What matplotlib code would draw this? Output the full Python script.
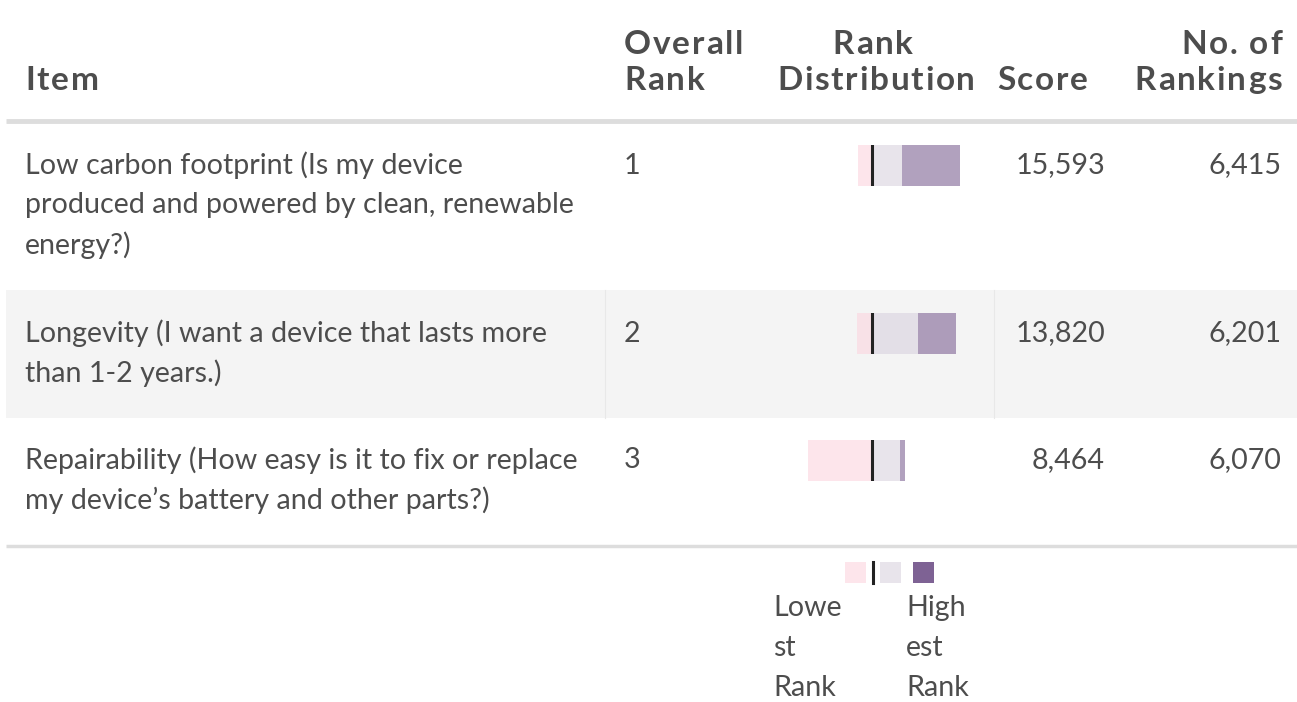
import matplotlib.pyplot as plt

# table data
items = [
    ["Low carbon footprint (Is my device", "produced and powered by clean, renewable", "energy?)"],
    ["Longevity (I want a device that lasts more", "than 1-2 years.)"],
    ["Repairability (How easy is it to fix or replace", "my device\u2019s battery and other parts?)"],
]
overall_rank = [1, 2, 3]
scores = [15593, 13820, 8464]
n_rankings = [6415, 6201, 6070]
# counts per rank position (lowest, middle, highest)
lowest = [900, 960, 3991]
middle = [1852, 2863, 1764]
highest = [3663, 2378, 315]

W, H = 1297, 702
fig = plt.figure(figsize=(W / 100, H / 100), dpi=100)
ax = fig.add_axes([0, 0, 1, 1])
ax.set_xlim(0, W)
ax.set_ylim(H, 0)
ax.axis('off')

txt = '#4d4d4d'
font = 'Lato'
fs = 20.6
pink = '#fcd5df'
grey = '#d9d2df'
purple = '#7e6294'

renderer = fig.canvas.get_renderer()


def text_width(s, **kw):
    if not s:
        return 0
    t = ax.text(0, 0, s, **kw)
    w = t.get_window_extent(renderer).width
    t.remove()
    return w


def spaced(x, y, s, ha, ls, **kw):
    # header text with letter spacing, drawn one char at a time
    total = text_width(s, **kw) + ls * (len(s) - 1)
    x0 = {'left': x, 'right': x - total, 'center': x - total / 2}[ha]
    for i, c in enumerate(s):
        ax.text(x0 + text_width(s[:i], **kw) + i * ls, y, c, ha='left', **kw)


# header
hkw = dict(fontfamily=font, fontweight='bold', fontsize=24, color=txt, va='center')
ls = 1.8
spaced(25, 80, 'Item', 'left', ls, **hkw)
spaced(624, 45, 'Overall', 'left', ls, **hkw)
spaced(624, 80, 'Rank', 'left', ls, **hkw)
spaced(873, 45, 'Rank', 'center', ls, **hkw)
spaced(876, 80, 'Distribution', 'center', ls, **hkw)
spaced(1088, 80, 'Score', 'right', ls, **hkw)
spaced(1282, 45, 'No. of', 'right', ls, **hkw)
spaced(1282, 80, 'Rankings', 'right', ls, **hkw)

ax.plot([6, W], [121, 121], color='#dddddd', lw=3.5, solid_capstyle='butt')
ax.plot([6, W], [546, 546], color='#dddddd', lw=2.5, solid_capstyle='butt')

# row 2 shading
ax.fill_between([6, W], 290, 418, color='#f4f4f4', lw=0)
ax.plot([605, 605], [290, 418], color='#e8e8e8', lw=0.8)
ax.plot([994, 994], [290, 418], color='#e8e8e8', lw=0.8)

row_y = [165.5, 333.5, 460.5]
bkw = dict(fontfamily=font, fontsize=fs, color=txt, va='center')
for i, y in enumerate(row_y):
    for k, line in enumerate(items[i]):
        ax.text(25, y + k * 40, line, ha='left', **bkw)
    ax.text(624, y, str(overall_rank[i]), ha='left', **bkw)
    ax.text(1105, y, f'{scores[i]:,}', ha='right', **bkw)
    ax.text(1281, y, f'{n_rankings[i]:,}', ha='right', **bkw)

    bx = fig.add_axes([780 / W, 1 - (y + 20.5) / H, 210 / W, 41 / H])
    bx.set_xlim(-5750, 7375)
    bx.set_ylim(-0.5, 0.5)
    bx.axis('off')
    bx.patch.set_alpha(0)
    bx.barh(0, -lowest[i], height=1, color=pink, alpha=0.6, lw=0)
    bx.barh(0, middle[i], height=1, color=grey, alpha=0.6, lw=0)
    bx.barh(0, highest[i], left=middle[i], height=1, color=purple, alpha=0.6, lw=0)
    bx.axvline(0, color='#222222', lw=2.2)

# legend
ax.fill_between([845, 866], 562, 583, color=pink, alpha=0.6, lw=0)
ax.plot([872.5, 872.5], [562, 583], color='#222222', lw=2.2)
ax.fill_between([880, 901], 562, 583, color=grey, alpha=0.6, lw=0)
ax.fill_between([913, 934], 562, 583, color=purple, lw=0)
for k, (a, b) in enumerate(zip(['Lowe', 'st', 'Rank'], ['High', 'est', 'Rank'])):
    ax.text(773, 608 + k * 40, a, ha='left', **bkw)
    ax.text(906, 608 + k * 40, b, ha='left', **bkw)

fig.savefig('out.png', dpi=100)
